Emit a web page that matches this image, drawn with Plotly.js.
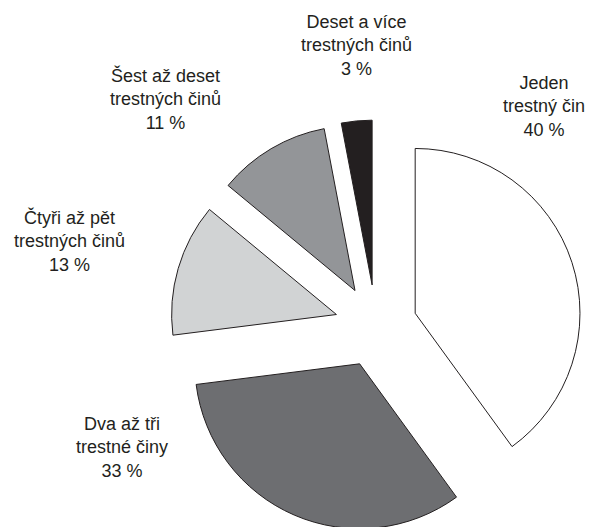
<!DOCTYPE html>
<html>
<head>
<meta charset="utf-8">
<script src="https://cdn.plot.ly/plotly-3.0.1.min.js"></script>
<style>
html, body { margin: 0; padding: 0; overflow: hidden; background: #fff; }
#wrap { width: 589px; height: 527px; overflow: hidden; position: relative; }
#chart { width: 589px; height: 532px; }
</style>
</head>
<body>
<div id="wrap"><div id="chart"></div></div>
<script>
// Data
const categories = [
  "Jeden<br>trestný čin",
  "Dva až tři<br>trestné činy",
  "Čtyři až pět<br>trestných činů",
  "Šest až deset<br>trestných činů",
  "Deset a více<br>trestných činů"
];
const shares = [40, 33, 13, 11, 3];
const sliceColors = ["#ffffff", "#6d6e71", "#d1d3d4", "#939598", "#231f20"];

// Layout helpers (pixel positions of label blocks)
const W = 589, H = 532;
const labelPos = [
  [544, 107],
  [122, 447],
  [69, 241],
  [165, 99],
  [356, 46]
];

const annotations = categories.map((c, i) => ({
  xref: "paper", yref: "paper",
  x: labelPos[i][0] / W,
  y: 1 - labelPos[i][1] / H,
  xanchor: "center", yanchor: "middle",
  showarrow: false,
  align: "center",
  text: c + "<br>" + shares[i] + " %",
  font: { family: "Liberation Sans, Arial, sans-serif", size: 18, color: "#231f20" }
}));

const trace = {
  type: "pie",
  labels: categories,
  values: shares,
  sort: false,
  direction: "clockwise",
  rotation: 0,
  pull: shares.map(() => 0.25),
  marker: { colors: sliceColors, line: { color: "#231f20", width: 1 } },
  textinfo: "none",
  hoverinfo: "label+percent",
  showlegend: false,
  domain: { x: [170 / W, 582 / W], y: [0, 1 - 120 / H] }
};

Plotly.newPlot("chart", [trace], {
  width: W, height: H,
  margin: { l: 0, r: 0, t: 0, b: 0 },
  paper_bgcolor: "#ffffff",
  showlegend: false,
  annotations: annotations
}, { displayModeBar: false, staticPlot: true });
</script>
</body>
</html>
